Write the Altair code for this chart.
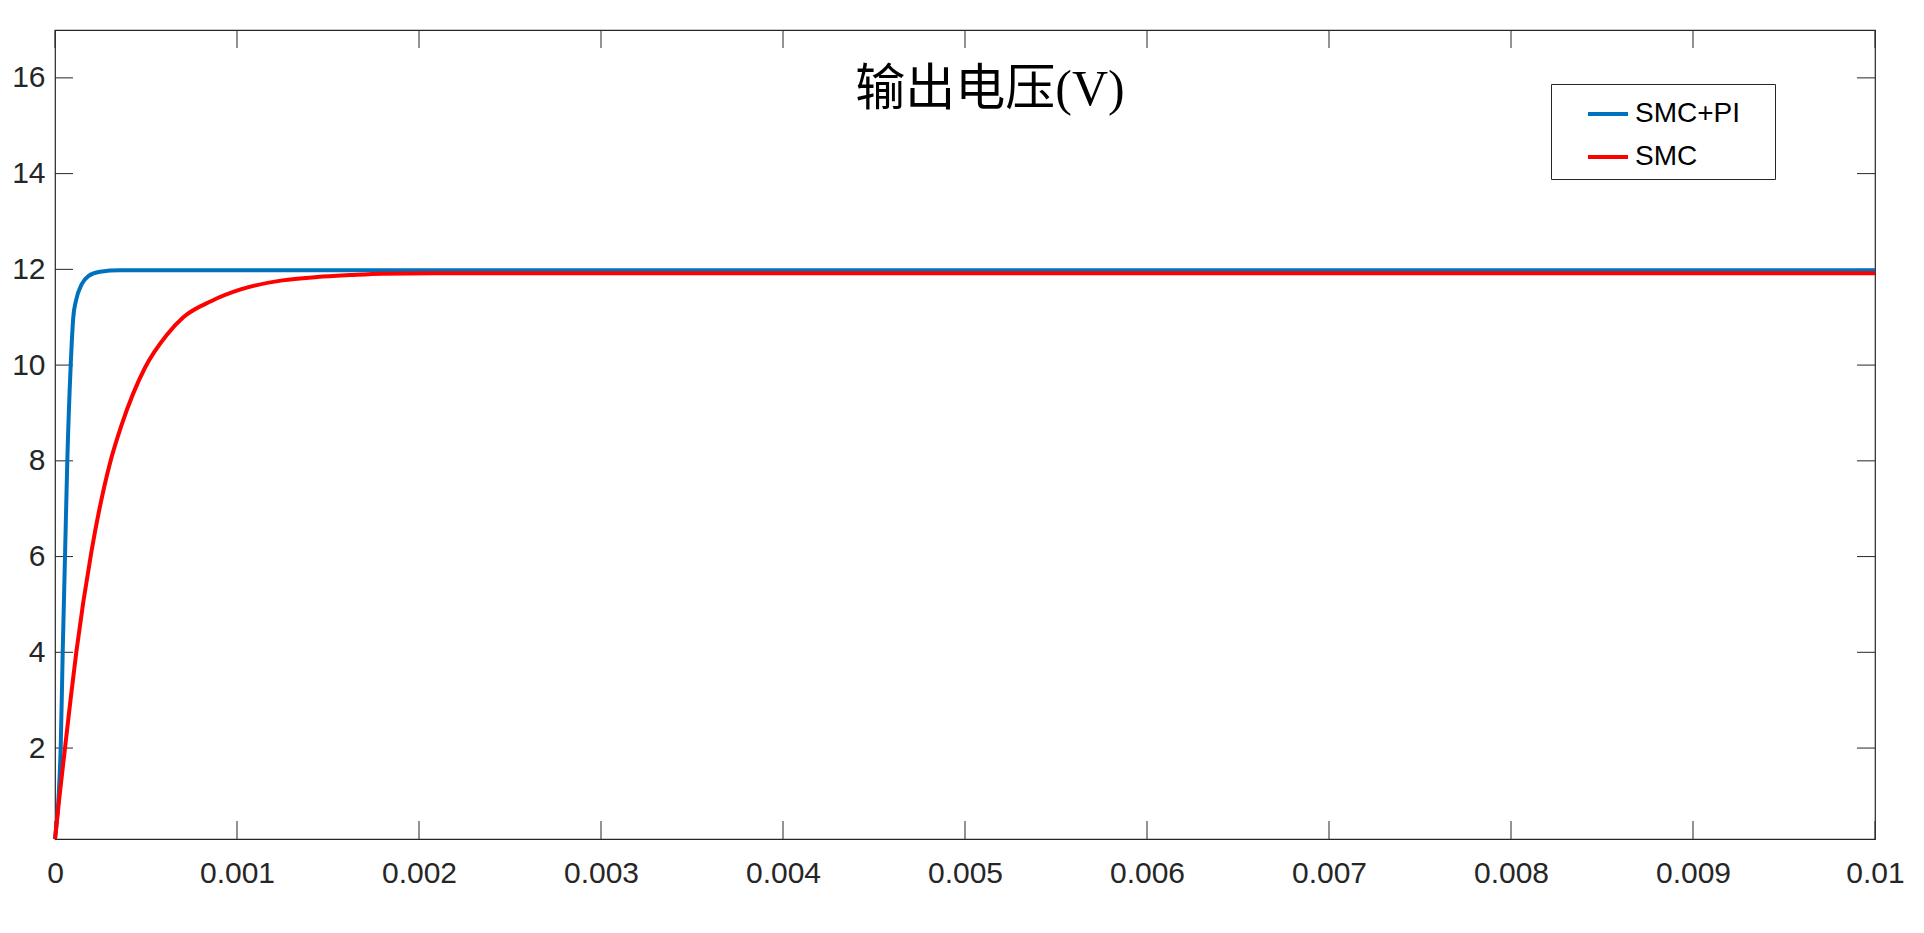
import altair as alt
import pandas as pd

# ---- data ----
t_smcpi = [0, 0.0000313, 0.0000423, 0.000055, 0.0000676, 0.0000863, 0.0001005,
           0.000115, 0.000147, 0.000183, 0.000247, 0.000357, 0.0005, 0.001,
           0.002, 0.004, 0.006, 0.008, 0.01]
v_smcpi = [0.1, 2.0, 4.0, 6.0, 8.0, 10.0, 11.0,
           11.34, 11.69, 11.86, 11.95, 11.98, 11.98, 11.98,
           11.98, 11.98, 11.98, 11.98, 11.98]

t_smc = [0, 0.000025, 0.000055, 0.000085, 0.000117, 0.0002, 0.000302, 0.000366,
         0.000495, 0.000614, 0.000705, 0.00086, 0.00102, 0.00125, 0.00144,
         0.00162, 0.0018, 0.00217, 0.003, 0.005, 0.01]
v_smc = [0.1, 1.0, 2.0, 3.0, 4.0, 6.1, 7.95, 8.75,
         9.95, 10.63, 11.0, 11.34, 11.58, 11.77, 11.84,
         11.88, 11.91, 11.92, 11.92, 11.92, 11.92]

series_names = ["SMC+PI", "SMC"]
series_colors = ["#0072BD", "#FF0000"]

x_ticks = [0, 0.001, 0.002, 0.003, 0.004, 0.005, 0.006, 0.007, 0.008, 0.009, 0.01]
y_ticks = [2, 4, 6, 8, 10, 12, 14, 16]
x_domain = [0, 0.01]
y_domain = [0.1, 17]
title_text = "输出电压(V)"

# ---- tables ----
df_pi = pd.DataFrame({"t": t_smcpi, "v": v_smcpi, "series": series_names[0]})
df_smc = pd.DataFrame({"t": t_smc, "v": v_smc, "series": series_names[1]})
df_xt = pd.DataFrame({"t": x_ticks})
df_yt = pd.DataFrame({"v": y_ticks})

W, H = 1820, 809
TICK = 18
AX = "#262626"

X = alt.X("t:Q", scale=alt.Scale(domain=x_domain, nice=False, zero=False),
          axis=alt.Axis(values=x_ticks, format="~g", title=None, grid=False,
                        domain=False, ticks=False, labelPadding=19,
                        labelFontSize=30, labelFont="Liberation Sans",
                        labelColor=AX, labelFlush=False))
Y = alt.Y("v:Q", scale=alt.Scale(domain=y_domain, nice=False, zero=False),
          axis=alt.Axis(values=y_ticks, format="d", title=None, grid=False,
                        domain=False, ticks=False, labelPadding=10,
                        labelFontSize=30, labelFont="Liberation Sans",
                        labelColor=AX))
C = alt.Color("series:N", scale=alt.Scale(domain=series_names, range=series_colors),
              legend=alt.Legend(title=" ", titleOrient="right", titlePadding=27,
                                titleFontSize=28,
                                orient="none", legendX=1496, legendY=54,
                                symbolType="stroke", symbolSize=1600,
                                symbolStrokeWidth=4, symbolOffset=27,
                                labelFontSize=28, labelFont="Liberation Sans",
                                labelColor="#000000", labelOffset=5,
                                rowPadding=7, padding=8,
                                strokeColor=AX, fillColor="white"))

line_pi = alt.Chart(df_pi).mark_line(strokeWidth=4, interpolate="monotone").encode(x=X, y=Y, color=C)
line_smc = alt.Chart(df_smc).mark_line(strokeWidth=4, interpolate="monotone").encode(x=X, y=Y, color=C)

xt_bottom = alt.Chart(df_xt).mark_rule(color=AX, strokeWidth=1).encode(
    x=X, y=alt.value(H), y2=alt.value(H - TICK))
xt_top = alt.Chart(df_xt).mark_rule(color=AX, strokeWidth=1).encode(
    x=X, y=alt.value(0), y2=alt.value(TICK))
yt_left = alt.Chart(df_yt).mark_rule(color=AX, strokeWidth=1).encode(
    y=Y, x=alt.value(0), x2=alt.value(TICK))
yt_right = alt.Chart(df_yt).mark_rule(color=AX, strokeWidth=1).encode(
    y=Y, x=alt.value(W - TICK), x2=alt.value(W))

chart = alt.layer(xt_bottom, xt_top, yt_left, yt_right, line_pi, line_smc).properties(
    width=W, height=H,
    background="white",
    title=alt.TitleParams(text=title_text, font="Liberation Serif, Noto Sans CJK SC",
                          fontSize=50, fontWeight="normal", color="#000000",
                          anchor="middle", offset=-110, baseline="middle", dx=25),
    autosize=alt.AutoSizeParams(type="none"),
    padding={"left": 47, "top": 22, "right": 30, "bottom": 60},
).configure_view(stroke=AX, strokeWidth=1.2)

chart.save("out.html", embed_options={"renderer": "svg", "actions": False})
